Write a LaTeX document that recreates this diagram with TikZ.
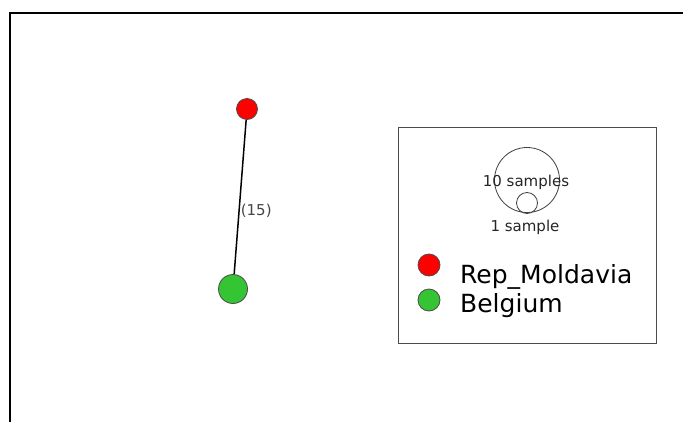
\documentclass[tikz,border=0pt]{standalone}
\usepackage{fontspec}
\setmainfont{DejaVu Sans}
\definecolor{nodered}{RGB}{255,0,0}
\definecolor{nodegreen}{RGB}{52,196,52}
\definecolor{labelgray}{RGB}{70,70,70}
\begin{document}
\begin{tikzpicture}[x=1pt,y=-1pt,
  pop/.style={circle,draw=black!70,line width=0.8pt,inner sep=0pt},
  legtext/.style={anchor=base west,inner sep=0pt,font=\fontsize{25}{28}\selectfont},
  smalltext/.style={inner sep=0pt,font=\fontsize{15}{17}\selectfont,text=black!85},
  sizecirc/.style={circle,draw=black!75,line width=0.8pt,inner sep=0pt}]
\useasboundingbox (0,0) rectangle (683,421);
\fill[white] (0,0) rectangle (683,421);
% outer frame
\draw[line width=2.5pt] (10,440) -- (10,13) -- (700,13);
% network
\node[pop,fill=nodered,minimum size=21pt] (mold) at (247,109) {};
\node[pop,fill=nodegreen,minimum size=29pt] (belg) at (233,289) {};
\draw[line width=1.5pt] (mold) -- node[pos=0.59,anchor=west,inner sep=0pt,xshift=1pt,text=labelgray,font=\fontsize{15}{17}\selectfont] (lbl) {(15)} (belg);
% legend
\node[draw=black!70,line width=0.8pt,minimum width=258pt,minimum height=216pt,inner sep=0pt] (legend) at (527,235) {};
\node[sizecirc,minimum size=65pt] (big) at (527,180) {};
\node[sizecirc,minimum size=21pt] (small) at (527,203) {};
\node[smalltext] (ten) at (526,182) {10 samples};
\node[smalltext] (one) at (525,227) {1 sample};
\node[pop,fill=nodered,minimum size=22pt] (lred) at (429,265) {};
\node[pop,fill=nodegreen,minimum size=22pt] (lgreen) at (429,300) {};
\node[legtext] (tmold) at (460,283) {Rep\_Moldavia};
\node[legtext] (tbelg) at (460,312) {Belgium};
\end{tikzpicture}
\end{document}
